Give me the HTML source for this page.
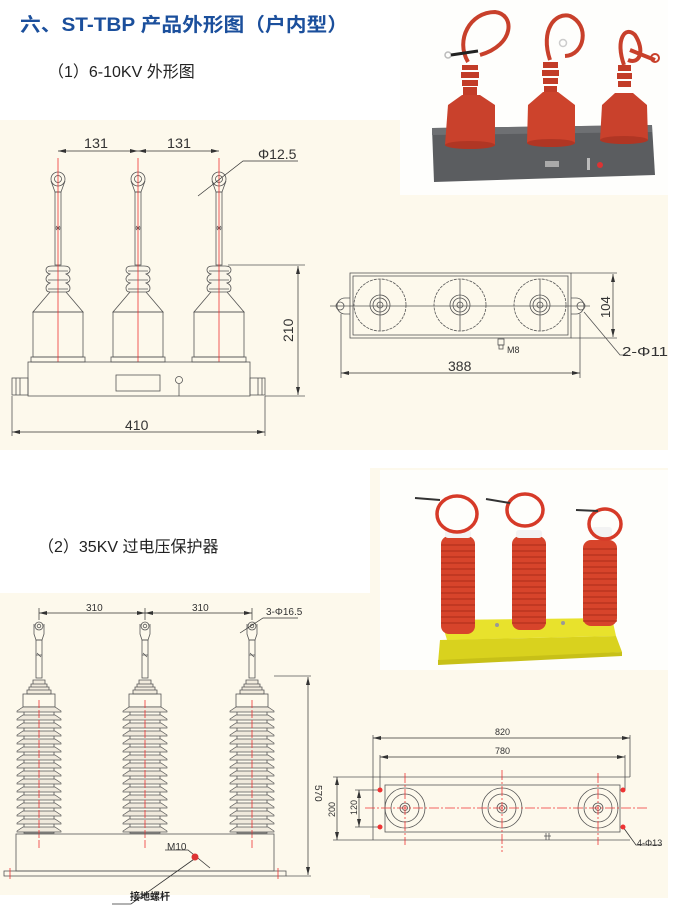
<!DOCTYPE html>
<html><head><meta charset="utf-8"><style>
html,body{margin:0;padding:0;background:#fff;width:680px;height:907px;overflow:hidden}
svg{display:block}
text{font-family:"Liberation Sans","Noto Sans CJK SC",sans-serif}
</style></head><body>
<svg width="680" height="907" viewBox="0 0 680 907" xmlns="http://www.w3.org/2000/svg">
<defs>
<marker id="ar" markerWidth="8" markerHeight="6" refX="8" refY="3" orient="auto-start-reverse" markerUnits="userSpaceOnUse"><path d="M0,1 L8,3 L0,5z" fill="#333"/></marker>
<g id="ins1" fill="none" stroke="#555" stroke-width="0.8">
  <circle cx="0" cy="179" r="7"/><circle cx="0" cy="179" r="3.5"/>
  <path d="M-7,181 L-3,192 L3,192 L7,181"/>
  <rect x="-3" y="192" width="6" height="73"/>
  <path d="M-3,228 L3,228 M-2,226 L2,230 M2,226 L-2,230"/>
  <path d="M-6,266 Q-12,266 -12,270 Q-12,273 -8,274 Q-12,276 -12,279 Q-12,282 -8,283 Q-12,285 -12,288 Q-12,292 -8,292 L8,292 Q12,292 12,288 Q12,285 8,283 Q12,282 12,279 Q12,276 8,274 Q12,273 12,270 Q12,266 6,266 Z" fill="#faf6ea"/>
  <path d="M-10,271 H10 M-10,280 H10 M-10,289 H10"/>
  <path d="M-8,292 L-25,312 L25,312 L8,292"/>
  <rect x="-25" y="312" width="50" height="45"/>
  <rect x="-27" y="357" width="54" height="5"/>
  <line x1="0" y1="158" x2="0" y2="362" stroke="#e33" stroke-width="0.8"/>
</g>
<g id="shed" stroke="#555" stroke-width="0.7" fill="#efe9dc">
  <path d="M-16,0 L16,0 L22,4 L22,5 L-22,5 L-22,4 Z"/>
</g>
<g id="ins2" fill="none" stroke="#555" stroke-width="0.8">
  <circle cx="0" cy="626" r="4"/><circle cx="0" cy="626" r="1.8"/>
  <path d="M-5,624 L-5,634 L-3,640 L3,640 L5,634 L5,624"/>
  <rect x="-3" y="640" width="6" height="38"/>
  <path d="M-3,655 H3 M-2,653 L2,657"/>
  <path d="M-6,680 H6 V684 H-6Z M-8,684 H8 V687 H-8Z M-10,687 H10 V690 H-10Z M-12,690 H12 V694 H-12Z" fill="#f1ebdd"/>
  <rect x="-16" y="694" width="32" height="13"/>
  <rect x="-15" y="707" width="30" height="126"/>
  <use href="#shed" y="707"/><use href="#shed" y="715"/><use href="#shed" y="723"/><use href="#shed" y="731"/>
  <use href="#shed" y="739"/><use href="#shed" y="747"/><use href="#shed" y="755"/><use href="#shed" y="763"/>
  <use href="#shed" y="771"/><use href="#shed" y="779"/><use href="#shed" y="787"/><use href="#shed" y="795"/>
  <use href="#shed" y="803"/><use href="#shed" y="811"/><use href="#shed" y="819"/><use href="#shed" y="827"/>
  <line x1="0" y1="700" x2="0" y2="850" stroke="#e33" stroke-width="0.8" stroke-dasharray="8,2"/>
</g>
</defs>

<rect x="0" y="120" width="668" height="330" fill="#fdf9ec"/>
<rect x="400" y="0" width="268" height="195" fill="#fefefc"/>
<rect x="370" y="468" width="298" height="430" fill="#fdf9ec"/>
<rect x="0" y="593" width="370" height="302" fill="#fdf9ec"/>
<rect x="380" y="470" width="288" height="200" fill="#fefefb"/>

<text x="20" y="31" font-size="19" fill="#1b4f9c" font-weight="bold" textLength="328" lengthAdjust="spacingAndGlyphs">六、ST-TBP 产品外形图（户内型）</text>
<text x="48" y="77" font-size="16" fill="#222">（1）6-10KV 外形图</text>
<text x="38" y="552" font-size="16" fill="#222">（2）35KV 过电压保护器</text>

<g>
<use href="#ins1" x="58"/><use href="#ins1" x="138"/><use href="#ins1" x="219"/>
<g fill="none" stroke="#555" stroke-width="0.8">
  <rect x="28" y="362" width="222" height="34"/>
  <rect x="116" y="375" width="44" height="16"/>
  <circle cx="179" cy="380" r="3.5"/><line x1="179" y1="384" x2="179" y2="396"/>
  <rect x="12" y="378" width="16" height="17"/><path d="M16,378V395M20,378V395"/>
  <rect x="250" y="378" width="15" height="17"/><path d="M258,378V395M262,378V395"/>
  <path d="M12,396V436 M265,396V436 M265,396H305 M228,265H305"/>
</g>
<g stroke="#333" stroke-width="0.7">
  <line x1="58" y1="151" x2="138" y2="151" marker-start="url(#ar)" marker-end="url(#ar)"/>
  <line x1="138" y1="151" x2="219" y2="151" marker-start="url(#ar)" marker-end="url(#ar)"/>
  <line x1="12" y1="432" x2="265" y2="432" marker-start="url(#ar)" marker-end="url(#ar)"/>
  <line x1="298" y1="266" x2="298" y2="395" marker-start="url(#ar)" marker-end="url(#ar)"/>
  <path d="M198,196 L243,161 H298" fill="none"/>
</g>
<text x="84" y="148" font-size="14" fill="#333" textLength="24" lengthAdjust="spacingAndGlyphs">131</text>
<text x="167" y="148" font-size="14" fill="#333" textLength="24" lengthAdjust="spacingAndGlyphs">131</text>
<text x="258" y="159" font-size="14" fill="#333">Φ12.5</text>
<text x="125" y="430" font-size="14" fill="#333">410</text>
<text transform="translate(293,342) rotate(-90)" font-size="14" fill="#333">210</text>
</g>

<g fill="none" stroke="#555" stroke-width="0.8">
  <rect x="350" y="273" width="221" height="65"/>
  <rect x="353" y="276" width="215" height="59"/>
  <path d="M350,298 H345 A8,8 0 0 0 345,314 H350 M571,298 H576 A8,8 0 0 1 576,314 H571"/>
  <circle cx="340" cy="306" r="4"/><circle cx="581" cy="306" r="4"/>
  <line x1="330" y1="306" x2="590" y2="306"/>
  <g stroke-dasharray="3,1">
  <circle cx="380" cy="305" r="26"/><circle cx="460" cy="305" r="26"/><circle cx="540" cy="305" r="26"/>
  </g>
  <circle cx="380" cy="305" r="10"/><circle cx="380" cy="305" r="7"/><circle cx="380" cy="305" r="3"/>
  <circle cx="460" cy="305" r="10"/><circle cx="460" cy="305" r="7"/><circle cx="460" cy="305" r="3"/>
  <circle cx="540" cy="305" r="10"/><circle cx="540" cy="305" r="7"/><circle cx="540" cy="305" r="3"/>
  <path d="M380,279V331 M460,279V331 M540,279V331"/>
  <rect x="498" y="339" width="6" height="6"/><rect x="499" y="345" width="4" height="4"/>
  <path d="M341,314V378 M580,314V378 M571,273H617 M571,338H617 M584,312 L620,355 H628"/>
</g>
<g stroke="#333" stroke-width="0.7">
  <line x1="341" y1="373" x2="580" y2="373" marker-start="url(#ar)" marker-end="url(#ar)"/>
  <line x1="613" y1="274" x2="613" y2="337" marker-start="url(#ar)" marker-end="url(#ar)"/>
</g>
<text x="507" y="353" font-size="9" fill="#333">M8</text>
<text x="448" y="371" font-size="14" fill="#333">388</text>
<text transform="translate(610,318) rotate(-90)" font-size="13" fill="#333">104</text>
<text x="622" y="356" font-size="13" fill="#333" textLength="46" lengthAdjust="spacingAndGlyphs">2-Φ11</text>

<g>
  <path d="M432,128 L652,125 L655,175 L434,182 Z" fill="#5b5d60"/>
  <path d="M432,128 L652,125 L652,132 L432,135 Z" fill="#6e7073"/>
  <rect x="545" y="161" width="14" height="6" fill="#aaa"/>
  <circle cx="600" cy="165" r="3" fill="#d33"/>
  <rect x="587" y="158" width="3" height="12" fill="#bbb"/>
  <path d="M462,95 L448,105 L445,145 Q470,150 495,145 L495,105 L480,95 Z" fill="#c9412c"/>
  <ellipse cx="470" cy="145" rx="25" ry="4" fill="#b03624"/>
  <path d="M462,65 h16 v5 h-16z M461,72 h18 v6 h-18z M462,80 h16 v6 h-16z M463,87 h14 v8 h-14z" fill="#c23c28"/>
  <path d="M468,62 C455,40 470,12 495,12 C515,14 515,45 480,55" fill="none" stroke="#c8402b" stroke-width="4"/>
  <circle cx="448" cy="55" r="3" fill="none" stroke="#bbb" stroke-width="1.5"/>
  <line x1="451" y1="55" x2="478" y2="51" stroke="#222" stroke-width="3"/>
  <path d="M543,92 L528,105 L527,143 Q551,150 575,143 L575,105 L558,92 Z" fill="#cd432c"/>
  <ellipse cx="551" cy="143" rx="24" ry="4" fill="#b03624"/>
  <path d="M543,62 h15 v6 h-15z M542,70 h17 v6 h-17z M543,78 h15 v6 h-15z M544,86 h13 v6 h-13z" fill="#c23c28"/>
  <path d="M550,60 C540,30 555,12 570,16 C590,25 585,55 565,56" fill="none" stroke="#c8402b" stroke-width="4"/>
  <circle cx="563" cy="43" r="3.5" fill="none" stroke="#ccc" stroke-width="1.5"/>
  <path d="M615,93 L602,105 L600,140 Q624,147 648,140 L647,105 L633,93 Z" fill="#c9412c"/>
  <ellipse cx="624" cy="140" rx="24" ry="4" fill="#b03624"/>
  <path d="M618,65 h13 v6 h-13z M617,73 h15 v6 h-15z M618,81 h13 v6 h-13z" fill="#c23c28"/>
  <path d="M624,65 C615,40 625,25 635,35 C645,50 640,65 628,60 M630,50 L655,60" fill="none" stroke="#c8402b" stroke-width="4"/>
  <circle cx="655" cy="58" r="4" fill="none" stroke="#c8402b" stroke-width="2"/>
</g>

<use href="#ins2" x="39"/><use href="#ins2" x="145"/><use href="#ins2" x="252"/>
<g fill="none" stroke="#555" stroke-width="0.8">
  <rect x="16" y="834" width="258" height="37"/>
  <rect x="4" y="871" width="282" height="5"/>
  <path d="M10,868V879 M278,868V879" stroke="#e33"/>
  <path d="M274,676H311 M286,876H311"/>
  <path d="M197,857 L131,904 H112" stroke="#333"/>
  <path d="M165,850 H188 L210,868" stroke="#333"/>
</g>
<circle cx="195" cy="857" r="3.5" fill="#d33"/>
<g stroke="#333" stroke-width="0.7">
  <line x1="39" y1="613" x2="145" y2="613" marker-start="url(#ar)" marker-end="url(#ar)"/>
  <line x1="145" y1="613" x2="252" y2="613" marker-start="url(#ar)" marker-end="url(#ar)"/>
  <line x1="308" y1="677" x2="308" y2="875" marker-start="url(#ar)" marker-end="url(#ar)"/>
  <path d="M240,633 L263,618 H298" fill="none"/>
  <line x1="39" y1="608" x2="39" y2="620"/><line x1="145" y1="608" x2="145" y2="620"/><line x1="252" y1="608" x2="252" y2="620"/>
</g>
<text x="86" y="611" font-size="10" fill="#333">310</text>
<text x="192" y="611" font-size="10" fill="#333">310</text>
<text x="266" y="615" font-size="10" fill="#333">3-Φ16.5</text>
<text x="167" y="850" font-size="10" fill="#333">M10</text>
<text x="130" y="900" font-size="10" fill="#222" font-weight="bold">接地螺杆</text>
<text transform="translate(315,785) rotate(90)" font-size="10" fill="#333">570</text>

<g fill="none" stroke="#555" stroke-width="0.8">
  <rect x="385" y="785" width="235" height="47"/>
  <path d="M373,777H630 M333,840H630 M333,777H373 M373,735V840 M630,735V777 M380,755V790 M625,755V790 M355,790H380 M355,827H380"/>
  <circle cx="405" cy="808" r="20"/><circle cx="405" cy="808" r="14"/><circle cx="405" cy="808" r="5"/><circle cx="405" cy="808" r="2.5"/>
  <circle cx="502" cy="808" r="20"/><circle cx="502" cy="808" r="14"/><circle cx="502" cy="808" r="5"/><circle cx="502" cy="808" r="2.5"/>
  <circle cx="598" cy="808" r="20"/><circle cx="598" cy="808" r="14"/><circle cx="598" cy="808" r="5"/><circle cx="598" cy="808" r="2.5"/>
  <path d="M546,833V840 M549,833V840 M544,836H551"/>
  <path d="M623,827 L636,845 H662" stroke="#333"/>
</g>
<g stroke="#e33" stroke-width="0.8" stroke-dasharray="10,2,2,2">
  <line x1="365" y1="808" x2="647" y2="808"/>
  <line x1="405" y1="773" x2="405" y2="845"/>
  <line x1="502" y1="770" x2="502" y2="852"/>
  <line x1="598" y1="773" x2="598" y2="845"/>
</g>
<g fill="#e33"><circle cx="380" cy="790" r="2.5"/><circle cx="380" cy="827" r="2.5"/><circle cx="623" cy="790" r="2.5"/><circle cx="623" cy="827" r="2.5"/></g>
<g stroke="#333" stroke-width="0.7">
  <line x1="373" y1="738" x2="630" y2="738" marker-start="url(#ar)" marker-end="url(#ar)"/>
  <line x1="380" y1="757" x2="625" y2="757" marker-start="url(#ar)" marker-end="url(#ar)"/>
  <line x1="337" y1="777" x2="337" y2="840" marker-start="url(#ar)" marker-end="url(#ar)"/>
  <line x1="359" y1="790" x2="359" y2="827" marker-start="url(#ar)" marker-end="url(#ar)"/>
</g>
<text x="495" y="735" font-size="9" fill="#333">820</text>
<text x="495" y="754" font-size="9" fill="#333">780</text>
<text transform="translate(335,817) rotate(-90)" font-size="9" fill="#333">200</text>
<text transform="translate(357,815) rotate(-90)" font-size="9" fill="#333">120</text>
<text x="637" y="846" font-size="9" fill="#333">4-Φ13</text>

<g>
  <path d="M441,620 L612,618 L616,636 L447,640 Z" fill="#e8e22c"/>
  <path d="M440,640 L616,636 L622,652 L438,663 Z" fill="#d9d21e"/>
  <path d="M438,660 L622,652 L622,656 L438,665 Z" fill="#c7c018"/>
  <circle cx="497" cy="625" r="2" fill="#999"/><circle cx="563" cy="623" r="2" fill="#999"/>
  <rect x="441" y="536" width="34" height="98" rx="8" fill="#d7442b"/>
  <rect x="512" y="536" width="34" height="94" rx="8" fill="#d7442b"/>
  <rect x="583" y="540" width="34" height="86" rx="8" fill="#d7442b"/>
  <g stroke="#b4321c" stroke-width="1.2">
    <path d="M441,545h34M441,551h34M441,557h34M441,563h34M441,569h34M441,575h34M441,581h34M441,587h34M441,593h34M441,599h34M441,605h34M441,611h34M441,617h34M441,623h34"/>
    <path d="M512,545h34M512,551h34M512,557h34M512,563h34M512,569h34M512,575h34M512,581h34M512,587h34M512,593h34M512,599h34M512,605h34M512,611h34M512,617h34M512,623h34"/>
    <path d="M583,549h34M583,555h34M583,561h34M583,567h34M583,573h34M583,579h34M583,585h34M583,591h34M583,597h34M583,603h34M583,609h34M583,615h34M583,621h34"/>
  </g>
  <rect x="445" y="530" width="26" height="8" rx="3" fill="#f3f3f3"/>
  <rect x="516" y="530" width="26" height="8" rx="3" fill="#f3f3f3"/>
  <rect x="592" y="527" width="20" height="12" rx="3" fill="#f3f3f3"/>
  <g fill="none" stroke="#d63a28" stroke-width="3.5">
    <ellipse cx="457" cy="514" rx="20" ry="18"/>
    <ellipse cx="525" cy="510" rx="18" ry="16"/>
    <ellipse cx="605" cy="524" rx="16" ry="15"/>
  </g>
  <g stroke="#333" stroke-width="2"><line x1="415" y1="498" x2="440" y2="500"/><line x1="486" y1="499" x2="510" y2="503"/><line x1="576" y1="510" x2="598" y2="511"/></g>
</g>
</svg>
</body></html>
